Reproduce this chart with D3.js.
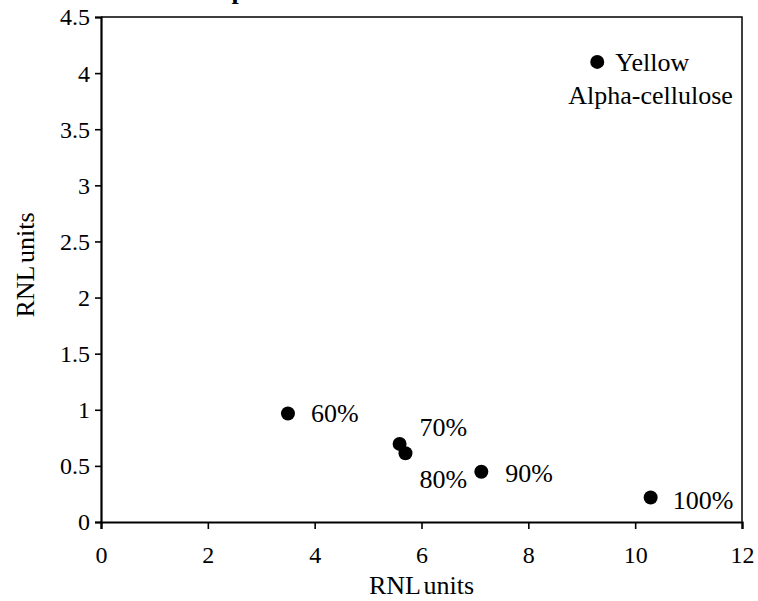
<!DOCTYPE html>
<html>
<head>
<meta charset="utf-8">
<script src="https://cdn.jsdelivr.net/npm/d3@7"></script>
<style>
  body { margin: 0; background: #fff; }
  svg text { font-family: "Liberation Serif", "Times New Roman", serif; fill: #000; }
</style>
</head>
<body>
<div id="chart"></div>
<script>
// sample points
var labels = ["60%", "70%", "80%", "90%", "100%", "Yellow"];
var xValues = [3.50, 5.59, 5.70, 7.12, 10.29, 9.29];
var yValues = [0.967, 0.696, 0.612, 0.448, 0.218, 4.10];
var xTicks = [0, 2, 4, 6, 8, 10, 12];
var yTicks = [0, 0.5, 1, 1.5, 2, 2.5, 3, 3.5, 4, 4.5];

// label offsets from the dot (px)
var labelDx = [23, 20, 14, 24, 22, 18];
var labelDy = [9, -8, 35, 10, 11, 9];

var margin = { top: 17, right: 16, bottom: 79, left: 101 },
  width = 758 - margin.left - margin.right,
  height = 601 - margin.top - margin.bottom;

var serif = "'Liberation Serif', 'Times New Roman', serif";

var svg = d3.select("#chart").append("svg")
  .attr("width", 758)
  .attr("height", 601);

// title, cut off at the top edge like in the source
svg.append("text")
  .attr("x", 178)
  .attr("y", -1)
  .style("font-weight", "bold")
  .style("font-size", "26px")
  .text("Comparison");

var g = svg.append("g")
  .attr("transform", "translate(" + margin.left + "," + margin.top + ")");

var x = d3.scaleLinear().domain([0, 12]).range([0, width]);
var y = d3.scaleLinear().domain([0, 4.5]).range([height, 0]);

// plot area frame (top and right)
g.append("path")
  .attr("d", "M0,0H" + width + "V" + height)
  .attr("fill", "none")
  .attr("stroke", "#000")
  .attr("stroke-width", 1.5);

var xAxis = g.append("g")
  .attr("transform", "translate(0," + height + ")")
  .call(d3.axisBottom(x).tickValues(xTicks).tickSize(7).tickFormat(d3.format("d")));

var yAxis = g.append("g")
  .call(d3.axisLeft(y).tickValues(yTicks).tickSize(6).tickPadding(5).tickFormat(function(d) { return d; }));

[xAxis, yAxis].forEach(function(a) {
  a.attr("font-family", serif).attr("font-size", 24);
  a.select(".domain").attr("stroke-width", 2.2);
  a.selectAll(".tick line").attr("stroke-width", 1.6);
  a.selectAll("text")
    .attr("font-family", serif)
    .style("font-family", serif)
    .style("font-size", "24px");
});
xAxis.selectAll("text").attr("y", 41).attr("dy", 0);
yAxis.selectAll("text").attr("dy", "0.33em");

svg.append("text")
  .attr("x", margin.left + width / 2)
  .attr("y", 594)
  .style("text-anchor", "middle")
  .style("font-size", "26px")
  .style("word-spacing", "-3px")
  .text("RNL units");

svg.append("text")
  .attr("transform", "translate(34," + (margin.top + 248) + ") rotate(-90)")
  .style("text-anchor", "middle")
  .style("font-size", "26px")
  .style("word-spacing", "-3px")
  .text("RNL units");

var points = labels.map(function(l, i) {
  return { label: l, x: xValues[i], y: yValues[i], dx: labelDx[i], dy: labelDy[i] };
});

g.selectAll(".dot")
  .data(points)
  .enter().append("circle")
  .attr("class", "dot")
  .attr("cx", function(d) { return x(d.x); })
  .attr("cy", function(d) { return y(d.y); })
  .attr("r", 7)
  .attr("fill", "#000");

g.selectAll(".lab")
  .data(points)
  .enter().append("text")
  .attr("class", "lab")
  .attr("x", function(d) { return x(d.x) + d.dx; })
  .attr("y", function(d) { return y(d.y) + d.dy; })
  .style("font-size", "26px")
  .text(function(d) { return d.label; });

// second line of the Yellow label
var yellow = points[5];
g.append("text")
  .attr("x", x(yellow.x) - 29)
  .attr("y", y(yellow.y) + 42)
  .style("font-size", "26px")
  .text("Alpha-cellulose");
</script>
</body>
</html>
